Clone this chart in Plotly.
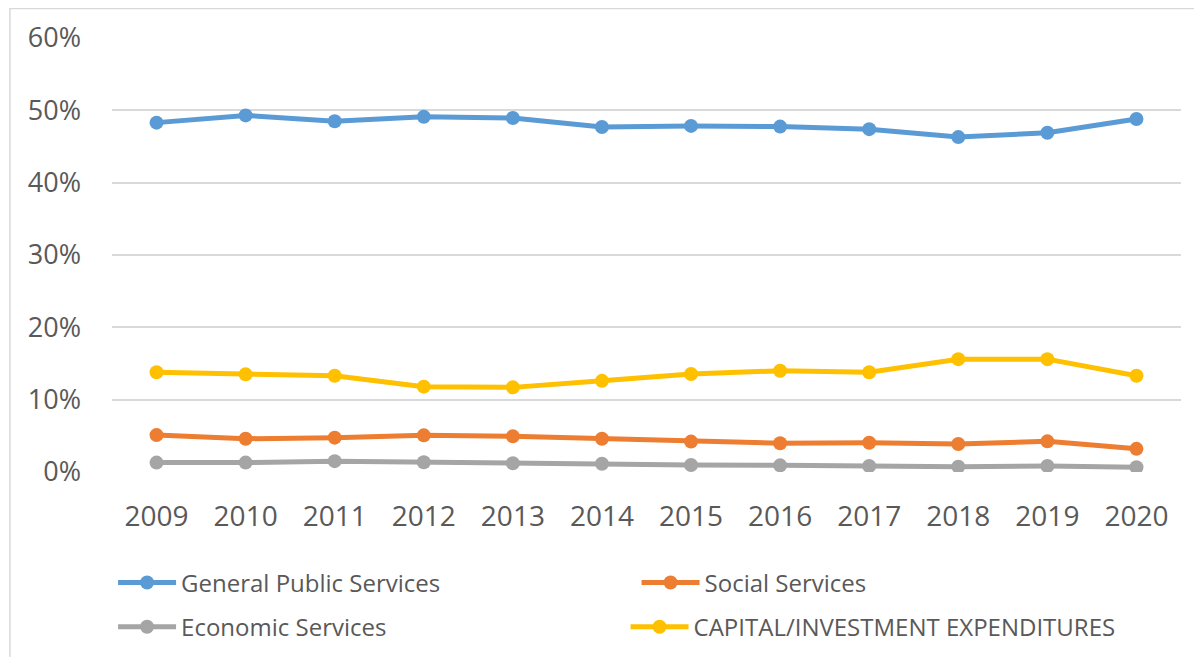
import plotly.graph_objects as go

years = ["2009", "2010", "2011", "2012", "2013", "2014", "2015", "2016", "2017", "2018", "2019", "2020"]
general_public = [48.3, 49.3, 48.5, 49.1, 48.95, 47.7, 47.85, 47.75, 47.4, 46.3, 46.9, 48.8]
social = [5.1, 4.6, 4.75, 5.07, 4.93, 4.6, 4.2, 3.97, 4.05, 3.87, 4.24, 3.2]
economic = [1.3, 1.3, 1.5, 1.35, 1.2, 1.15, 0.97, 0.92, 0.83, 0.74, 0.83, 0.65]
capital = [13.8, 13.5, 13.3, 11.8, 11.7, 12.6, 13.55, 14.0, 13.8, 15.6, 15.6, 13.3]

y_ticks = [0, 10, 20, 30, 40, 50, 60]
y_tick_labels = ["0%", "10%", "20%", "30%", "40%", "50%", "60%"]

series = [
    ("General Public Services", general_public, "#5B9BD5", "legend"),
    ("Social Services", social, "#ED7D31", "legend2"),
    ("Economic Services", economic, "#A5A5A5", "legend3"),
    ("CAPITAL/INVESTMENT EXPENDITURES", capital, "#FFC000", "legend4"),
]

FONT = "Open Sans, Liberation Sans, sans-serif"

fig = go.Figure()
for name, vals, color, lg in series:
    fig.add_trace(go.Scatter(
        x=years, y=vals, name=name, mode="lines+markers",
        line=dict(color=color, width=5),
        marker=dict(color=color, size=14),
        legend=lg,
    ))

legend_common = dict(
    orientation="h", xanchor="left", yanchor="middle",
    font=dict(family=FONT, size=24, color="#595959"),
    itemwidth=58,
    bgcolor="rgba(0,0,0,0)", itemclick=False, itemdoubleclick=False,
)

# the page body adds an 8px offset, so the figure is 8px smaller and margins shifted
fig.update_layout(
    width=1194, height=649,
    margin=dict(l=104, r=21, t=30, b=185, autoexpand=False),
    paper_bgcolor="white", plot_bgcolor="white",
    font=dict(family=FONT, color="#595959"),
    showlegend=True,
    legend=dict(x=0.001, y=-0.2555, **legend_common),
    legend2=dict(x=0.4907, y=-0.2555, **legend_common),
    legend3=dict(x=0.001, y=-0.3575, **legend_common),
    legend4=dict(x=0.4804, y=-0.3575, **legend_common),
    xaxis=dict(
        range=[-0.5, 11.5],
        showgrid=False, zeroline=False, showline=False, ticks="",
        tickfont=dict(family=FONT, size=28, color="#595959"),
        ticklabelstandoff=25, automargin=False,
    ),
    yaxis=dict(
        range=[0, 60], tickvals=y_ticks, ticktext=y_tick_labels,
        showgrid=True, gridcolor="#D9D9D9", gridwidth=1.5,
        zeroline=False, showline=False, ticks="",
        tickfont=dict(family=FONT, size=27, color="#595959"),
        ticklabelstandoff=30, automargin=False,
    ),
    shapes=[dict(
        type="rect", xref="paper", yref="paper",
        x0=-0.0955, y0=-0.6, x1=1.2, y1=1.068,
        line=dict(color="#D9D9D9", width=1.5), fillcolor="rgba(0,0,0,0)",
        layer="below",
    )],
)

fig.write_html("out.html")
